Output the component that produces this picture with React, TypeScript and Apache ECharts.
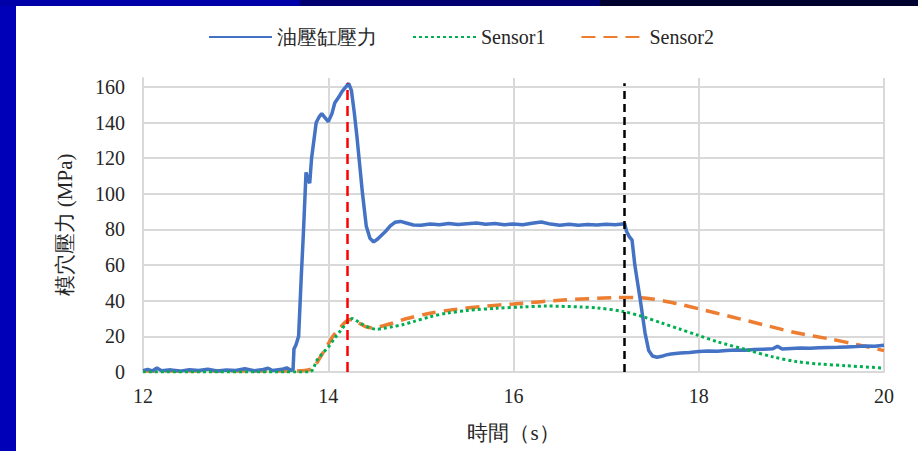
import React, { useEffect, useRef } from "react";
import * as echarts from "echarts";

const legendNames = ["油壓缸壓力", "Sensor1", "Sensor2"];
const xTitle = "時間（s）";
const yTitle = "模穴壓力 (MPa)";

const hydraulic: [number, number][] = [
  [12.0, 0.8], [12.05, 1.5], [12.1, 0.6], [12.15, 2.2], [12.2, 0.7], [12.3, 1.2], [12.4, 0.5],
  [12.5, 1.3], [12.6, 0.8], [12.7, 1.6], [12.8, 0.6], [12.9, 1.1], [13.0, 0.9], [13.1, 1.8],
  [13.2, 0.7], [13.3, 1.4], [13.35, 2.1], [13.4, 0.8], [13.5, 1.5], [13.55, 2.3], [13.6, 0.9],
  [13.62, 1.2], [13.63, 13], [13.65, 15], [13.68, 20], [13.71, 55], [13.73, 76], [13.75, 100],
  [13.76, 112], [13.78, 108], [13.8, 106], [13.82, 120], [13.84, 128], [13.87, 140], [13.9, 143],
  [13.93, 145], [13.96, 143], [14.0, 140.5], [14.04, 145], [14.07, 151], [14.11, 154],
  [14.15, 157.5], [14.19, 160], [14.22, 162], [14.25, 158], [14.28, 146], [14.31, 132],
  [14.34, 116], [14.37, 100], [14.41, 82], [14.45, 75], [14.49, 73], [14.53, 74.5],
  [14.57, 76.5], [14.62, 79], [14.67, 82], [14.72, 84], [14.78, 84.5], [14.85, 83.5],
  [14.92, 82.5], [15.0, 82.3], [15.1, 83.0], [15.2, 82.6], [15.3, 83.4], [15.4, 82.8],
  [15.5, 83.2], [15.6, 83.6], [15.7, 82.9], [15.8, 83.3], [15.9, 82.7], [16.0, 83.1],
  [16.1, 82.6], [16.2, 83.5], [16.3, 84.2], [16.4, 83.0], [16.5, 82.4], [16.6, 82.9],
  [16.7, 82.3], [16.8, 82.8], [16.9, 82.5], [17.0, 82.9], [17.1, 82.6], [17.2, 83.2],
  [17.22, 79], [17.25, 76], [17.28, 74], [17.31, 60], [17.34, 50], [17.37, 40], [17.42, 22],
  [17.46, 12], [17.5, 9], [17.55, 8.3], [17.6, 8.8], [17.65, 9.6], [17.7, 10.1], [17.8, 10.6],
  [17.9, 11.0], [18.0, 11.5], [18.1, 11.8], [18.2, 11.6], [18.3, 12.1], [18.4, 12.3],
  [18.5, 12.2], [18.6, 12.6], [18.7, 12.8], [18.8, 13.0], [18.85, 14.5], [18.9, 12.9],
  [19.0, 13.2], [19.1, 13.4], [19.2, 13.3], [19.3, 13.6], [19.4, 13.8], [19.5, 13.9],
  [19.6, 14.1], [19.7, 14.3], [19.8, 14.6], [19.9, 14.4], [20.0, 15.0],
];

const sensor1: [number, number][] = [
  [12.0, 0], [13.8, 0], [13.84, 2], [13.87, 6], [13.93, 10], [14.0, 14], [14.07, 19],
  [14.13, 23], [14.2, 27.5], [14.26, 30], [14.3, 29], [14.36, 27], [14.44, 25], [14.52, 24],
  [14.6, 24.5], [14.7, 25.5], [14.8, 26.5], [14.92, 28.3], [15.1, 31], [15.28, 33],
  [15.5, 34.5], [15.82, 35.8], [16.1, 36.5], [16.36, 37], [16.72, 36.5], [16.9, 36],
  [17.18, 34], [17.4, 31], [17.6, 27.5], [17.8, 24], [17.98, 20.8], [18.2, 17], [18.52, 12.4],
  [18.8, 8.5], [19.06, 5.8], [19.3, 4.5], [19.6, 3.5], [20.0, 2.2],
];

const sensor2: [number, number][] = [
  [12.0, 0.5], [13.6, 0.5], [13.75, 0.8], [13.84, 2.5], [13.91, 8], [13.98, 14], [14.05, 20],
  [14.13, 25], [14.21, 29], [14.27, 29.5], [14.33, 27.5], [14.4, 25.5], [14.48, 24.8],
  [14.56, 25.5], [14.7, 27.5], [14.85, 30], [15.1, 33], [15.35, 35], [15.64, 36.7],
  [16.0, 38.2], [16.54, 40.4], [17.08, 41.7], [17.3, 41.8], [17.5, 41], [17.75, 38.5],
  [18.0, 35.5], [18.35, 31], [18.7, 26.5], [19.05, 22], [19.42, 18.5], [19.7, 15.5],
  [20.0, 12],
];

const markerTimes = [14.2, 17.2];
const markerTop = 162;

function buildOption() {
  const FONT = "serif";
  const gridColor = "#d9d9d9";
  const textColor = "#262626";
  return {
    animation: false,
    backgroundColor: "#ffffff",
    textStyle: { fontFamily: FONT },
    graphic: [
      { type: "rect", left: 0, top: 0, shape: { width: 16, height: 451 }, style: { fill: "#0000b8" }, z: 100 },
      { type: "rect", left: 0, top: 0, shape: { width: 300, height: 6 }, style: { fill: "#0000a8" }, z: 100 },
      { type: "rect", left: 300, top: 0, shape: { width: 300, height: 6 }, style: { fill: "#000070" }, z: 100 },
      { type: "rect", left: 600, top: 0, shape: { width: 318, height: 6 }, style: { fill: "#00002e" }, z: 100 },
    ],
    legend: {
      top: 22,
      left: 203,
      itemWidth: 63,
      itemHeight: 14,
      itemGap: 35,
      itemStyle: { opacity: 0 },
      textStyle: { fontFamily: FONT, fontSize: 20, color: textColor },
      data: legendNames,
    },
    grid: { left: 143, right: 34, top: 78, bottom: 79 },
    xAxis: {
      type: "value",
      min: 12,
      max: 20,
      interval: 2,
      name: xTitle,
      nameLocation: "middle",
      nameGap: 50,
      nameTextStyle: { fontFamily: FONT, fontSize: 21, color: textColor },
      axisLine: { lineStyle: { color: gridColor, width: 2 } },
      axisTick: { show: false },
      axisLabel: { fontFamily: FONT, fontSize: 20, color: textColor, margin: 14 },
      splitLine: { show: true, lineStyle: { color: gridColor, width: 2 } },
    },
    yAxis: {
      type: "value",
      min: 0,
      max: 165,
      interval: 20,
      name: yTitle,
      nameLocation: "middle",
      nameGap: 68,
      nameTextStyle: { fontFamily: FONT, fontSize: 21, color: textColor },
      axisLine: { show: true, lineStyle: { color: gridColor, width: 2 } },
      axisTick: { show: false },
      axisLabel: { fontFamily: FONT, fontSize: 20, color: textColor, margin: 18, showMaxLabel: false },
      splitLine: { show: true, showMaxLine: false, lineStyle: { color: gridColor, width: 2 } },
    },
    series: [
      {
        name: legendNames[0],
        type: "line",
        data: hydraulic,
        symbol: "none",
        lineStyle: { color: "#4472c4", width: 3.5 },
        itemStyle: { color: "#4472c4" },
        z: 3,
        markLine: {
          silent: true,
          symbol: "none",
          label: { show: false },
          data: [
            [
              { coord: [markerTimes[0], 0], lineStyle: { color: "#ff0000", width: 2.5, type: [10, 6] } },
              { coord: [markerTimes[0], markerTop] },
            ],
            [
              { coord: [markerTimes[1], 0], lineStyle: { color: "#000000", width: 2.5, type: [8, 5] } },
              { coord: [markerTimes[1], markerTop] },
            ],
          ],
        },
      },
      {
        name: legendNames[1],
        type: "line",
        data: sensor1,
        symbol: "none",
        smooth: 0.3,
        lineStyle: { color: "#00b050", width: 3, type: [3, 3] },
        itemStyle: { color: "#00b050" },
        z: 4,
      },
      {
        name: legendNames[2],
        type: "line",
        data: sensor2,
        symbol: "none",
        smooth: 0.3,
        lineStyle: { color: "#ed7d31", width: 3.5, type: [14, 8] },
        itemStyle: { color: "#ed7d31" },
        z: 2,
      },
    ],
  };
}

function Chart() {
  const ref = useRef<HTMLDivElement>(null);
  useEffect(() => {
    if (!ref.current) return;
    const chart = echarts.init(ref.current, null, { renderer: "svg" });
    chart.setOption(buildOption() as any);
    return () => chart.dispose();
  }, []);
  return <div ref={ref} style={{ position: "absolute", left: 0, top: 0, width: 918, height: 451 }} />;
}

export default function App() {
  return (
    <div style={{ position: "fixed", left: 0, top: 0, width: 918, height: 451 }}>
      <Chart />
    </div>
  );
}
